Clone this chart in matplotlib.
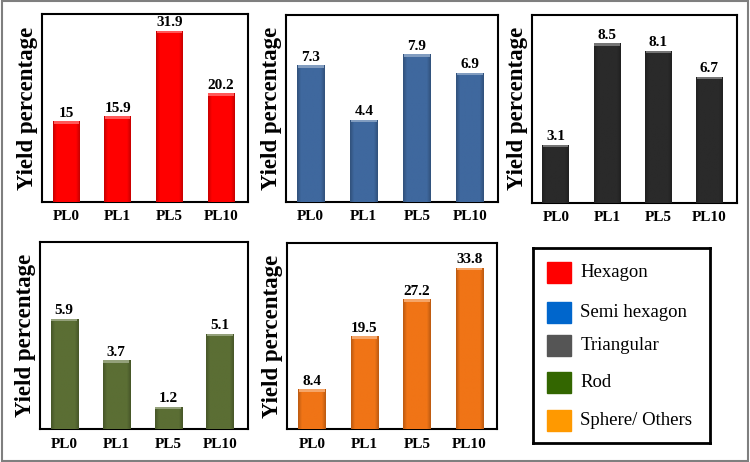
import numpy as np
import matplotlib
matplotlib.use("Agg")
import matplotlib.pyplot as plt
from matplotlib.colors import to_rgb
from matplotlib.patches import Rectangle

plt.rcParams['font.family'] = ['Liberation Serif', 'DejaVu Serif']

categories = ["PL0", "PL1", "PL5", "PL10"]
hexagon = [15, 15.9, 31.9, 20.2]
semi_hexagon = [7.3, 4.4, 7.9, 6.9]
triangular = [3.1, 8.5, 8.1, 6.7]
rod = [5.9, 3.7, 1.2, 5.1]
sphere = [8.4, 19.5, 27.2, 33.8]
value_labels = [
    ["15", "15.9", "31.9", "20.2"],
    ["7.3", "4.4", "7.9", "6.9"],
    ["3.1", "8.5", "8.1", "6.7"],
    ["5.9", "3.7", "1.2", "5.1"],
    ["8.4", "19.5", "27.2", "33.8"],
]

legend_names = ["Hexagon", "Semi hexagon", "Triangular", "Rod", "Sphere/ Others"]
legend_colors = ["#ff0000", "#0066cc", "#555555", "#336600", "#ff9900"]
bar_colors = ["#ff0000", "#3f689e", "#2a2a2a", "#5b6e34", "#f07416"]

# axes rectangles in figure fraction
positions = [
    [0.056, 0.563, 0.275, 0.407],
    [0.381, 0.563, 0.283, 0.405],
    [0.709, 0.561, 0.273, 0.407],
    [0.053, 0.071, 0.277, 0.405],
    [0.383, 0.071, 0.280, 0.403],
]
ylims = [35, 10, 10, 10, 39]


def shaded_bars(ax, x, vals, color, ymax):
    bars = ax.bar(x, vals, width=0.52, color=color, zorder=2)
    base = np.array(to_rgb(color))
    prof = np.concatenate([np.linspace(0.8, 1.0, 4), np.ones(16), np.linspace(1.0, 0.8, 4)])
    img = np.clip(base[None, :] * prof[:, None], 0, 1)[None, :, :]
    light = base + (1 - base) * 0.35
    for b in bars:
        x0, w, h = b.get_x(), b.get_width(), b.get_height()
        im = ax.imshow(img, extent=[x0, x0 + w, 0, h], aspect='auto', zorder=3,
                       interpolation='bilinear')
        im.set_clip_path(b)
        cap = 0.014 * ymax
        ax.bar(x0 + w / 2, cap, bottom=h - cap, width=w * 0.94, color=light, zorder=4)
    return bars


fig = plt.figure(figsize=(7.5, 4.62), dpi=100)
series = [hexagon, semi_hexagon, triangular, rod, sphere]
x = np.arange(len(categories))

for i, vals in enumerate(series):
    ax = fig.add_axes(positions[i])
    bars = shaded_bars(ax, x, vals, bar_colors[i], ylims[i])
    ax.set_xlim(-0.47, 3.53)
    ax.set_ylim(0, ylims[i])
    ax.set_xticks(x)
    ax.set_xticklabels(categories, fontweight='bold', fontsize=11)
    ax.set_yticks([])
    ax.tick_params(axis='x', length=0, pad=6)
    ax.set_ylabel("Yield percentage", fontweight='bold', fontsize=16.5, labelpad=3)
    for s in ax.spines.values():
        s.set_linewidth(1.5)
    for b, lab in zip(bars, value_labels[i]):
        ax.annotate(lab, (b.get_x() + b.get_width() / 2, b.get_height()),
                    xytext=(0, 1), textcoords='offset points', ha='center',
                    va='bottom', fontweight='bold', fontsize=11)

# legend box
lax = fig.add_axes([0.711, 0.041, 0.235, 0.422])
lax.set_xticks([])
lax.set_yticks([])
for s in lax.spines.values():
    s.set_linewidth(2)
lax.set_xlim(0, 1)
lax.set_ylim(0, 1)
rows = [0.822, 0.617, 0.448, 0.258, 0.063]
for name, col, yy in zip(legend_names, legend_colors, rows):
    lax.add_patch(Rectangle((0.08, yy), 0.136, 0.108, color=col))
    lax.text(0.267, yy + 0.054, name, fontsize=13.5, va='center', ha='left')

# grey outer frame
fig.patches.append(Rectangle((0.002, 0.003), 0.995, 0.994, transform=fig.transFigure,
                             fill=False, edgecolor='#7f7f7f', linewidth=1.5))

fig.savefig("out.png", dpi=100)
